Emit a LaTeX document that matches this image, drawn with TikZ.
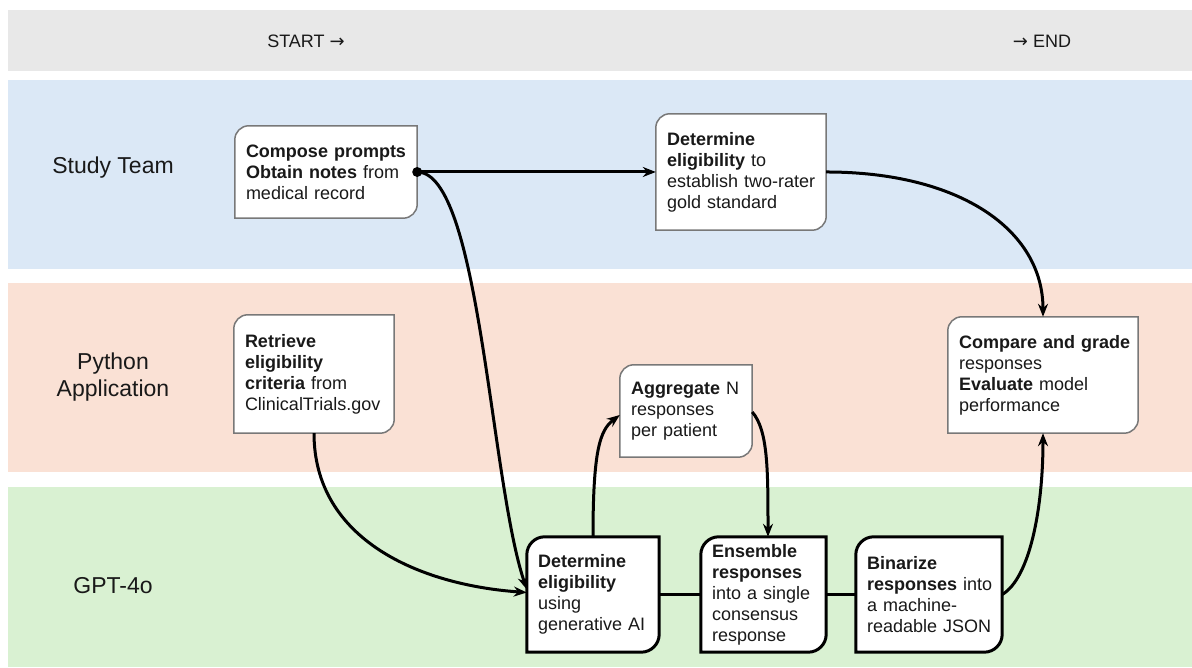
\documentclass[tikz,border=0pt]{standalone}
\usepackage{fontspec}
\setmainfont{Liberation Sans}
\newfontfamily\arrowfont{DejaVu Sans}
\usetikzlibrary{arrows.meta}
\definecolor{bandgray}{RGB}{232,232,232}
\definecolor{bandblue}{RGB}{219,232,246}
\definecolor{bandpeach}{RGB}{250,225,213}
\definecolor{bandgreen}{RGB}{217,241,210}
\definecolor{boxgray}{RGB}{120,120,120}
\definecolor{inkc}{RGB}{25,25,25}
\pgfdeclarelayer{bg}
\pgfdeclarelayer{boxlayer}
\pgfsetlayers{bg,boxlayer,main}
\newcommand\cutbox[3]{% node, style, radius
  \draw[#2] ([yshift=-#3]#1.north west) arc[start angle=180,end angle=90,radius=#3]
    -- (#1.north east) -- ([yshift=#3]#1.south east)
    arc[start angle=0,end angle=-90,radius=#3] -- (#1.south west) -- cycle;}
\tikzset{
  boxtext/.style={inner xsep=11pt, inner ysep=4pt, align=left, text=inkc,
    font=\fontsize{18}{21}\selectfont},
  lanelabel/.style={align=center, text=inkc, font=\fontsize{23}{27}\selectfont},
  toplabel/.style={text=inkc, font=\fontsize{18}{20}\selectfont},
  upperbox/.style={fill=white, draw=boxgray, line width=1.5pt},
  gptbox/.style={fill=white, draw=black, line width=3pt},
  conn/.style={draw=black, line width=3pt, -{Stealth[length=13pt,width=10pt]}},
  plainline/.style={draw=black, line width=3pt}
}
\begin{document}
\begin{tikzpicture}[x=1pt,y=1pt]
\useasboundingbox (0,0) rectangle (1192,668);
\begin{pgfonlayer}{bg}
  \fill[bandgray] (8,597) rectangle (1192,658);
  \fill[bandblue] (8,399) rectangle (1192,588);
  \fill[bandpeach] (8,196) rectangle (1192,385);
  \fill[bandgreen] (8,1) rectangle (1192,181);
\end{pgfonlayer}

% header
\node[toplabel] (start) at (306,627) {START {\arrowfont →}};
\node[toplabel] (endl) at (1042,627) {{\arrowfont →} END};

% lane labels
\node[lanelabel] (laneA) at (113,500) {Study Team};
\node[lanelabel] (laneB) at (113,291) {Python\\Application};
\node[lanelabel] (laneC) at (113,82) {GPT-4o};

% boxes
\node[boxtext, text width=160pt, minimum height=92pt] (compose) at (326,496)
  {\mbox{\textbf{Compose prompts}}\\\textbf{Obtain notes} from\\medical record};
\node[boxtext, text width=148pt, minimum height=116pt] (detS) at (741,496)
  {\textbf{Determine}\\\textbf{eligibility} to\\\mbox{establish two-rater}\\gold standard};
\node[boxtext, text width=138pt, minimum height=118pt] (retrieve) at (314,294)
  {\textbf{Retrieve}\\\textbf{eligibility}\\\textbf{criteria} from\\\mbox{ClinicalTrials.gov}};
\node[boxtext, text width=168pt, minimum height=116pt] (compare) at (1043,293)
  {\mbox{\textbf{Compare and grade}}\\responses\\\textbf{Evaluate} model\\performance};
\node[boxtext, text width=110pt, minimum height=92pt] (aggregate) at (686,257)
  {\mbox{\textbf{Aggregate} N}\\responses\\per patient};
\node[boxtext, text width=110pt, minimum height=115pt] (detG) at (593,73.5)
  {\textbf{Determine}\\\textbf{eligibility}\\using\\\mbox{generative AI}};
\node[boxtext, text width=103pt, minimum height=115pt] (ensemble) at (763.5,73.5)
  {\textbf{Ensemble}\\\textbf{responses}\\\mbox{into a single}\\consensus\\response};
\node[boxtext, text width=124pt, minimum height=115pt] (binarize) at (929,73.5)
  {\textbf{Binarize}\\\mbox{\textbf{responses} into}\\a machine-\\\mbox{readable JSON}};

\begin{pgfonlayer}{boxlayer}
  \cutbox{compose}{upperbox}{14pt}
  \cutbox{detS}{upperbox}{14pt}
  \cutbox{retrieve}{upperbox}{14pt}
  \cutbox{compare}{upperbox}{14pt}
  \cutbox{aggregate}{upperbox}{14pt}
  \cutbox{detG}{gptbox}{18pt}
  \cutbox{ensemble}{gptbox}{18pt}
  \cutbox{binarize}{gptbox}{18pt}
\end{pgfonlayer}

% connectors
\draw[conn] (compose.east) -- (detS.west);
\draw[conn] (compose.east) .. controls (480,496) and (490,188) .. ([yshift=5pt]detG.west);
\fill[black] (compose.east) circle[radius=5pt];
\draw[conn] (retrieve.south) .. controls (314,128) and (420,83) .. ([yshift=2pt]detG.west);
\draw[conn] (detS.east) .. controls (960,496) and (1043,438) .. (compare.north);
\draw[conn] (binarize.east) .. controls (1030,90) and (1043,160) .. (compare.south);
\draw[conn] (detG.north) .. controls (593,218) and (600,238) .. ([yshift=-4pt]aggregate.west);
\draw[conn] ([yshift=-1pt]aggregate.east) .. controls (768,238) and (768,198) .. ([xshift=4.5pt]ensemble.north);
\draw[plainline] (detG.east) -- (ensemble.west);
\draw[plainline] (ensemble.east) -- (binarize.west);
\end{tikzpicture}
\end{document}
